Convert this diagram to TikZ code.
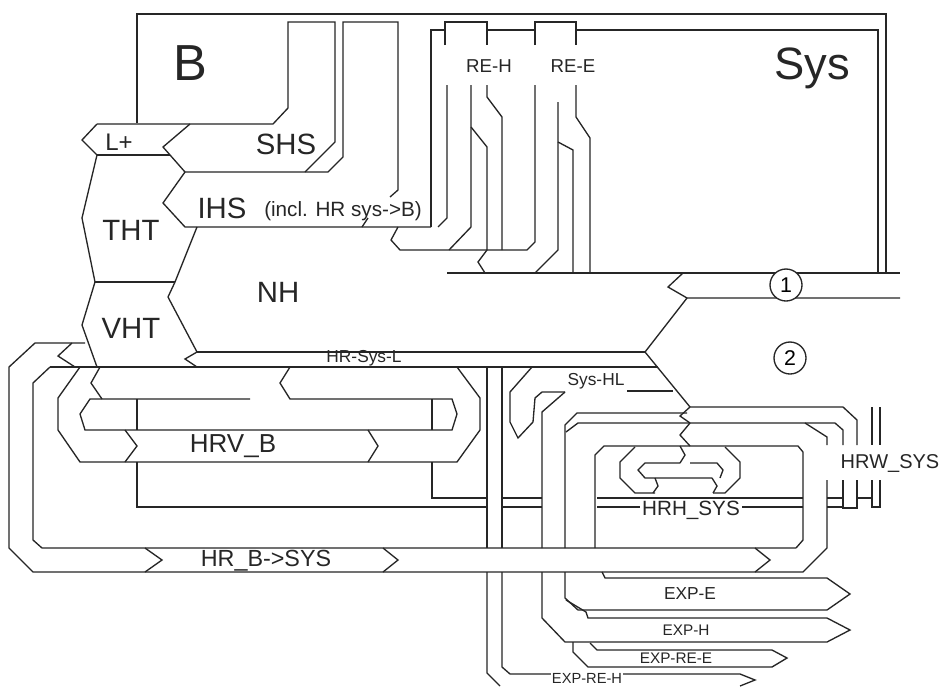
\documentclass[tikz,border=0pt]{standalone}
\usepackage{fontspec}
\setmainfont{Liberation Sans}
\newcommand\fsz[1]{\fontsize{#1}{#1}\selectfont}
\begin{document}
\begin{tikzpicture}[x=0.75pt,y=-0.75pt,
  ln/.style={draw=black!85, line width=1pt, line join=miter},
  lbl/.style={inner sep=1pt, text=black!85},
  wlbl/.style={inner sep=1pt, fill=white, text=black!85},
  circ/.style={circle, draw=black!85, line width=1pt, fill=white, minimum size=24pt, inner sep=0pt}]
\useasboundingbox (0,0) rectangle (944,686);
\fill[white] (0,0) rectangle (944,686);
% ---- boxes B / Sys
\draw[ln] (137,123)--(137,14)--(886,14)--(886,273);
\draw[ln] (431,227)--(431,30)--(445,30);
\draw[ln] (487,30)--(535,30);
\draw[ln] (576,30)--(878,30)--(878,273);
\draw[ln] (445,45)--(445,22)--(487,22)--(487,45);
\draw[ln] (535,45)--(535,22)--(576,22)--(576,45);
% ---- RE-H columns
\draw[ln] (447,85)--(447,218)--(438,227);
\draw[ln] (471,85)--(471,227)--(449,250);
\draw[ln] (471,127)--(487,147)--(487,250)--(478,262)--(485,273);
\draw[ln] (487,85)--(487,97)--(502,117)--(502,250);
% ---- RE-E columns
\draw[ln] (398,227)--(391,240)--(400,250)--(527,250)--(535,242)--(535,85);
\draw[ln] (558,102)--(558,250)--(535,273);
\draw[ln] (558,142)--(573,150)--(573,273);
\draw[ln] (576,85)--(576,117)--(590,138)--(590,273);
% ---- SHS / IHS / L+
\draw[ln] (97,124)--(273,124)--(288,108)--(288,22)--(335,22)--(335,142)--(305,172);
\draw[ln] (190,124)--(163,147)--(185,172);
\draw[ln] (185,172)--(328,172)--(343,157)--(343,22)--(398,22)--(398,190)--(390,197);
\draw[ln] (97,155)--(82,140)--(97,124);
\draw[ln] (97,155)--(170,155);
\draw[ln] (185,172)--(163,203)--(185,227)--(431,227);
\draw[ln] (362,227)--(368,218);
% ---- THT / VHT
\draw[ln] (97,155)--(82,218)--(95,282)--(82,325)--(97,367);
\draw[ln] (95,282)--(175,282);
\draw[ln] (197,227)--(175,282)--(168,297)--(197,352);
% ---- HR-Sys-L
\draw[ln] (197,352)--(645,352);
\draw[ln] (197,352)--(185,359)--(197,367);
\draw[ln] (50,367)--(658,367);
% ---- NH split, 1 and 2
\draw[ln] (447,273)--(900,273);
\draw[ln] (683,273)--(668,287)--(687,298)--(900,298);
\draw[ln] (687,298)--(645,352)--(690,407)--(843,407)--(857,420)--(857,445);
% ---- HR_B->SYS loop
\draw[ln] (85,343)--(35,343)--(9,367)--(9,548)--(33,572)--(803,572)--(827,548)--(827,480);
\draw[ln] (72,343)--(58,356)--(75,367);
\draw[ln] (50,367)--(33,383)--(33,540)--(42,548)--(796,548);
\draw[ln] (145,548)--(162,560)--(145,572);
\draw[ln] (383,548)--(398,560)--(383,572);
\draw[ln] (755,548)--(770,560)--(755,572);
% ---- HRV_B loop
\draw[ln] (100,367)--(91,383)--(102,399);
\draw[ln] (250,399)--(90,399)--(80,414)--(85,430)--(452,430)--(457,414)--(452,399)--(290,399)--(280,383)--(290,367);
\draw[ln] (137,399)--(137,430);
\draw[ln] (432,399)--(432,430);
\draw[ln] (80,367)--(58,398)--(58,430)--(80,462)--(457,462)--(480,430)--(480,398)--(457,367);
\draw[ln] (125,430)--(137,446)--(125,462);
\draw[ln] (368,430)--(378,446)--(368,462);
\draw[ln] (137,462)--(137,507)--(487,507);
\draw[ln] (432,462)--(432,498)--(487,498);
\draw[ln] (502,498)--(542,498);
\draw[ln] (502,507)--(542,507);
\draw[ln] (597,498)--(803,498);
\draw[ln] (597,507)--(640,507);
\draw[ln] (742,507)--(803,507);
% ---- RE-H lower (EXP-RE-H)
\draw[ln] (487,367)--(487,548);
\draw[ln] (502,367)--(502,548);
\draw[ln] (487,572)--(487,673)--(500,686);
\draw[ln] (502,572)--(502,667)--(510,674)--(740,674)--(755,680)--(740,686);
% ---- Sys-HL
\draw[ln] (532,367)--(510,392)--(510,422)--(518,438)--(533,422)--(535,398)--(542,392)--(565,392);
\draw[ln] (627,391)--(673,391);
% ---- EXP-H
\draw[ln] (565,392)--(542,412)--(542,548);
\draw[ln] (542,572)--(542,618)--(565,642)--(827,642)--(850,630)--(827,618)--(588,618)--(586,612)--(566,600);
\draw[ln] (687,413)--(577,413)--(565,425)--(565,548);
% ---- EXP-E
\draw[ln] (843,445)--(843,430)--(835,423)--(578,423)--(566,432);
\draw[ln] (565,572)--(565,598)--(578,610)--(827,610)--(850,594)--(827,578)--(605,578)--(602,572);
% ---- EXP-RE-E
\draw[ln] (573,642)--(573,652)--(588,667)--(772,667)--(787,658)--(772,650)--(597,650)--(590,643);
% ---- HRH box and inner loop
\draw[ln] (595,548)--(595,455)--(604,446)--(798,446)--(803,452)--(803,540)--(796,548);
\draw[ln] (655,493)--(635,493)--(620,478)--(620,462)--(635,447);
\draw[ln] (725,447)--(740,462)--(740,478)--(725,493)--(713,493);
\draw[ln] (712,478)--(645,478)--(638,470)--(645,463)--(680,463);
\draw[ln] (690,463)--(717,463)--(723,470)--(720,478);
\draw[ln] (653,493)--(658,486)--(655,478);
\draw[ln] (713,493)--(717,486)--(712,478);
\draw[ln] (690,407)--(680,416)--(690,423);
\draw[ln] (690,423)--(680,435)--(690,446);
\draw[ln] (680,446)--(685,455)--(680,463);
% ---- HRW_SYS
\draw[ln] (872,407)--(872,445);
\draw[ln] (880,407)--(880,445);
\draw[ln] (805,423)--(827,437)--(827,445);
\draw[ln] (827,498)--(843,498);
\draw[ln] (827,507)--(843,507);
\draw[ln] (843,480)--(843,508)--(857,508)--(857,480);
\draw[ln] (857,498)--(872,498);
\draw[ln] (872,480)--(872,507)--(880,507)--(880,480);
% ---- circles
\node[circ] (c1) at (786,285) {\fsz{16}1};
\node[circ] (c2) at (790,358) {\fsz{16}2};
% ---- labels
\node[lbl] (lB) at (190,63) {\fsz{38}B};
\node[lbl] (lSys) at (812,68) {\fsz{34}Sys};
\node[lbl] (lREH) at (489,66) {\fsz{14}RE-H};
\node[lbl] (lREE) at (573,66) {\fsz{14}RE-E};
\node[lbl] (lSHS) at (286,144) {\fsz{22}SHS};
\node[lbl] (lL) at (119,142) {\fsz{18}L+};
\node[lbl] (lIHS) at (222,208) {\fsz{22}IHS};
\node[lbl] (lincl) at (343,211) {\fsz{15.5}(incl. HR sys->B)};
\node[lbl] (lTHT) at (131,230) {\fsz{22}THT};
\node[lbl] (lNH) at (278,292) {\fsz{22}NH};
\node[lbl] (lVHT) at (131,328) {\fsz{22}VHT};
\node[lbl] (lHRSL) at (364,358) {\fsz{13}HR-Sys-L};
\node[lbl] (lSHL) at (596,381) {\fsz{13}Sys-HL};
\node[lbl] (lHRV) at (233,446) {\fsz{19.5}HRV\_B};
\node[lbl] (lHRB) at (266,561) {\fsz{17.5}HR\_B->SYS};
\node[lbl] (lHRW) at (890,463) {\fsz{15}HRW\_SYS};
\node[lbl] (lHRH) at (691,510) {\fsz{15.5}HRH\_SYS};
\node[lbl] (lEE) at (690,594) {\fsz{13}EXP-E};
\node[lbl] (lEH) at (686,630) {\fsz{11.5}EXP-H};
\node[wlbl] (lERE) at (676,658) {\fsz{11.5}EXP-RE-E};
\node[wlbl] (lERH) at (587,678) {\fsz{11}EXP-RE-H};
\end{tikzpicture}
\end{document}
